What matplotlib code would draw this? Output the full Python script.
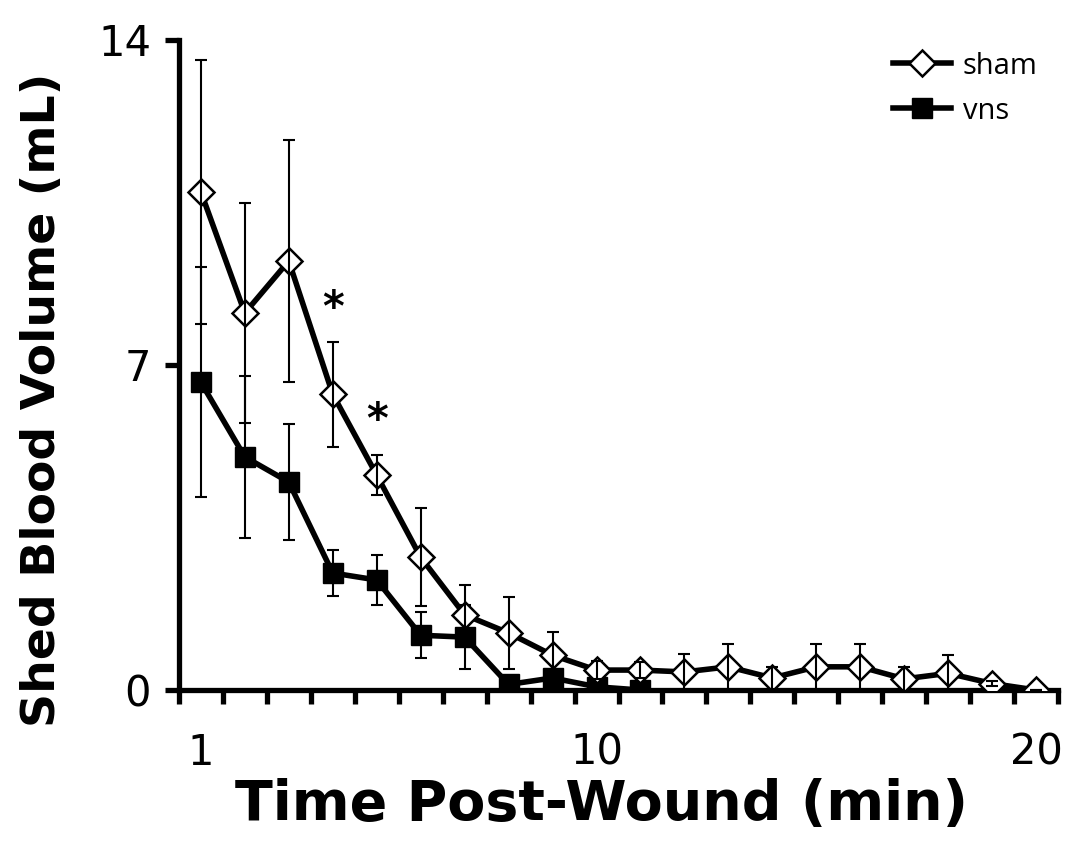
import numpy as np
import matplotlib
matplotlib.use("Agg")
import matplotlib.pyplot as plt

# values (mL per minute bin)
minutes = list(range(1, 21))
sham = [10.73, 8.12, 9.24, 6.37, 4.63, 2.86, 1.62, 1.23, 0.75, 0.43,
        0.43, 0.39, 0.50, 0.26, 0.50, 0.50, 0.24, 0.36, 0.14, 0.0]
sham_err = [2.84, 2.37, 2.60, 1.13, 0.43, 1.05, 0.64, 0.77, 0.50, 0.19,
            0.17, 0.38, 0.50, 0.24, 0.50, 0.50, 0.26, 0.40, 0.05, 0.0]
vns_minutes = list(range(1, 12))
vns = [6.63, 5.02, 4.48, 2.52, 2.37, 1.18, 1.14, 0.12, 0.26, 0.07, 0.0]
vns_err = [2.47, 1.75, 1.24, 0.50, 0.53, 0.50, 0.69, 0.0, 0.0, 0.0, 0.0]
star_minutes = [4, 5]
star_heights = [8.2, 5.8]

fig = plt.figure(figsize=(10.71, 8.41), dpi=100)
ax = fig.add_axes([0.167, 0.1795, 0.821, 0.773])

ax.errorbar(vns_minutes, vns, yerr=vns_err, fmt='none', ecolor='k',
            elinewidth=1.5, capsize=4.5, capthick=1.5, zorder=4)
ax.plot(vns_minutes, vns, '-s', color='k', lw=4, ms=15,
        mfc='k', mec='k', label='vns', zorder=3)
ax.errorbar(minutes, sham, yerr=sham_err, fmt='none', ecolor='k',
            elinewidth=1.5, capsize=4.5, capthick=1.5, zorder=7)
ax.plot(minutes, sham, '-D', color='k', lw=4, ms=13,
        mfc='white', mec='k', mew=1.8, label='sham', zorder=6)

for m, h in zip(star_minutes, star_heights):
    ax.text(m, h, '*', ha='center', va='center', fontsize=30,
            fontweight='bold')

ax.set_xlim(0.5, 20.5)
ax.set_ylim(0, 14)
ax.set_yticks([0, 7, 14])
ax.set_xticks([1, 10, 20])
ax.set_xticks(np.arange(0.5, 21, 1), minor=True)
ax.tick_params(axis='x', which='major', length=0, pad=30, labelsize=30)
ax.tick_params(axis='x', which='minor', length=10, width=3.8, direction='out')
ax.tick_params(axis='y', which='major', length=10, width=3.8, pad=10, labelsize=30)

for s in ['top', 'right']:
    ax.spines[s].set_visible(False)
for s in ['left', 'bottom']:
    ax.spines[s].set_linewidth(3.8)

ax.set_xlabel('Time Post-Wound (min)', fontsize=40, fontweight='heavy')
ax.set_ylabel('Shed Blood Volume (mL)', fontsize=34, fontweight='heavy')
ax.xaxis.set_label_coords(0.481, -0.135)
ax.yaxis.set_label_coords(-0.13, 0.446)

h, l = ax.get_legend_handles_labels()
ax.legend(h[::-1], l[::-1], loc='upper right', frameon=False,
          prop={'family': 'Open Sans', 'size': 21}, handlelength=2.0,
          labelspacing=0.55, handletextpad=0.4,
          borderaxespad=0.0, bbox_to_anchor=(0.99, 1.0))

fig.savefig('out.png', dpi=100)
